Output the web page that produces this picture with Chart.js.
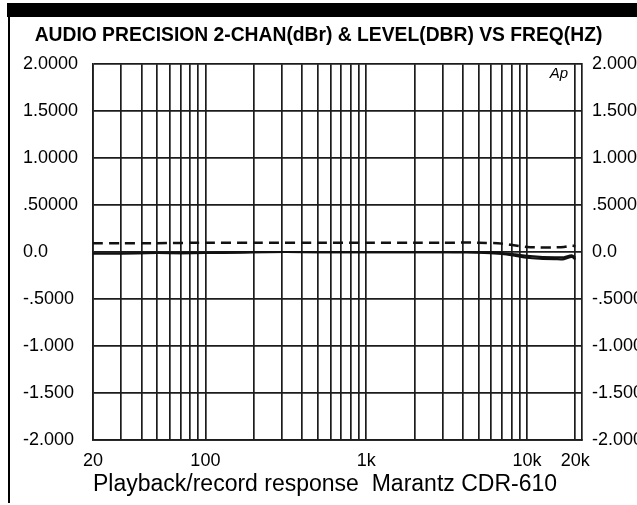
<!DOCTYPE html>
<html>
<head>
<meta charset="utf-8">
<script src="https://cdn.jsdelivr.net/npm/chart.js@4.4.0/dist/chart.umd.min.js"></script>
<style>
  html, body { margin: 0; padding: 0; background: #fff; }
  #wrap { width: 637px; height: 505px; }
</style>
</head>
<body>
<div id="wrap"><canvas id="chart" width="637" height="505"></canvas></div>
<script>
const titleText = "AUDIO PRECISION 2-CHAN(dBr) & LEVEL(DBR) VS FREQ(HZ)";
const caption = "Playback/record response  Marantz CDR-610";

// frequency points (Hz)
const freqs    = [20, 30, 50, 100, 200, 500, 1000, 2000, 3000, 5000, 7000, 8500, 10000, 12000, 15000, 17000, 19000, 20000];
// dashed trace: LEVEL(DBR)
const levelDbr = [0.095, 0.095, 0.095, 0.10, 0.10, 0.10, 0.10, 0.10, 0.10, 0.10, 0.09, 0.07, 0.055, 0.05, 0.05, 0.055, 0.07, 0.06];
// solid traces: the two channels (dBr)
const chanA    = [-0.015, -0.015, -0.01, -0.01, 0.0, 0.0, 0.0, 0.0, 0.0, 0.0, -0.01, -0.025, -0.04, -0.05, -0.055, -0.055, -0.035, -0.06];
const chanB    = [-0.015, -0.015, -0.01, -0.01, 0.0, 0.0, 0.0, 0.0, 0.0, -0.005, -0.02, -0.04, -0.06, -0.07, -0.075, -0.075, -0.05, -0.08];

// grid / tick values
const xGrid = [20, 30, 40, 50, 60, 70, 80, 90,
               100, 200, 300, 400, 500, 600, 700, 800, 900,
               1000, 2000, 3000, 4000, 5000, 6000, 7000, 8000, 9000,
               10000, 20000];
const xLabelValues = [20, 100, 1000, 10000, 20000];
const xLabelText   = ["20", "100", "1k", "10k", "20k"];
const yTicks  = [-2, -1.5, -1, -0.5, 0, 0.5, 1, 1.5, 2];
const yLabels = ["-2.000", "-1.500", "-1.000", "-.5000", "0.0", ".50000", "1.0000", "1.5000", "2.0000"];

const family = '"Liberation Sans", Arial, Helvetica, sans-serif';
const ink = '#111';
const gridColor = '#1c1c1c';

const pts = arr => freqs.map((f, i) => ({ x: f, y: arr[i] }));

const frame = {
  id: 'frame',
  afterLayout(chart) {
    // keep the title centred on the whole page, not the padded box
    const t = chart.titleBlock;
    if (t) { t.left = 0; t.right = chart.width; t.width = chart.width; }
  },
  beforeDraw(chart) {
    const c = chart.ctx;
    c.save();
    c.fillStyle = '#fff';
    c.fillRect(0, 0, chart.width, chart.height);
    c.fillStyle = '#000';
    c.fillRect(7, 3, chart.width - 7, 14);   // black bar at top
    c.fillRect(8, 17, 2, 486);               // left border
    c.restore();
  },
  afterDraw(chart) {
    const c = chart.ctx, a = chart.chartArea;
    c.save();
    c.font = 'italic 15px ' + family;
    c.fillStyle = '#000';
    c.textAlign = 'center';
    c.textBaseline = 'middle';
    c.fillText('Ap', a.right - 23, a.top + 10);
    c.restore();
  }
};

const yAxis = (pos, width, pad, showGrid, cross) => ({
  position: pos,
  min: -2, max: 2,
  afterBuildTicks: s => { s.ticks = yTicks.map(v => ({ value: v })); },
  afterFit: s => { s.width = width; },
  grid: { display: showGrid, color: gridColor, lineWidth: 1.7, drawTicks: false },
  border: { display: true, color: gridColor, width: 1.7 },
  ticks: {
    padding: pad, color: '#000', crossAlign: cross,
    font: { family: family, size: 18 },
    callback: v => yLabels[yTicks.indexOf(v)]
  }
});

new Chart(document.getElementById('chart'), {
  type: 'line',
  data: {
    datasets: [
      { label: 'LEVEL(DBR)', data: pts(levelDbr), borderColor: ink, borderWidth: 2.5, borderDash: [10, 6],
        pointRadius: 0, tension: 0.3, yAxisID: 'y' },
      { label: 'CH A', data: pts(chanA), borderColor: ink, borderWidth: 2.2, pointRadius: 0, tension: 0.3, yAxisID: 'y' },
      { label: 'CH B', data: pts(chanB), borderColor: ink, borderWidth: 2.2, pointRadius: 0, tension: 0.3, yAxisID: 'y' }
    ]
  },
  options: {
    responsive: false,
    animation: false,
    layout: { padding: { left: 23, right: 0, top: 0, bottom: 0 } },
    plugins: {
      legend: { display: false },
      tooltip: { enabled: false },
      title: {
        display: true, text: titleText, color: '#000',
        font: { family: family, size: 19.3, weight: 'bold', lineHeight: 1.2 },
        padding: { top: 24, bottom: 17 }
      }
    },
    scales: {
      x: {
        type: 'logarithmic',
        min: 20, max: 22000,
        afterBuildTicks: s => { s.ticks = xGrid.map(v => ({ value: v })); },
        afterFit: s => { s.height = 65; },
        grid: { color: gridColor, lineWidth: 1.7, drawTicks: false },
        border: { display: true, color: gridColor, width: 1.7 },
        ticks: {
          autoSkip: false, maxRotation: 0, padding: 10, color: '#000',
          font: { family: family, size: 18 },
          callback: v => { const i = xLabelValues.indexOf(v); return i < 0 ? '' : xLabelText[i]; }
        },
        title: {
          display: true, text: caption, align: 'start', color: '#000',
          font: { family: family, size: 23, lineHeight: 1.2 },
          padding: { top: 0, bottom: 7 }
        }
      },
      y: yAxis('left', 70, 11, true, 'far'),
      y2: yAxis('right', 55, 10, false, 'near')
    }
  },
  plugins: [frame]
});
</script>
</body>
</html>
